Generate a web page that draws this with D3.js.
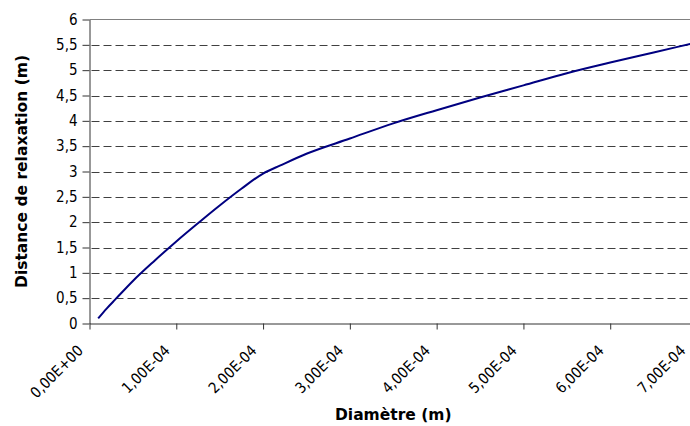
<!DOCTYPE html>
<html>
<head>
<meta charset="utf-8">
<script src="https://cdn.jsdelivr.net/npm/d3@7"></script>
<style>
  html, body { margin: 0; padding: 0; background: #fff; }
  svg { display: block; }
  text { font-family: "DejaVu Sans Condensed", "DejaVu Sans", sans-serif; font-stretch: condensed; fill: #000; }
  text.title { font-family: "DejaVu Sans", sans-serif; font-stretch: normal; font-weight: bold; }
</style>
</head>
<body>
<svg id="chart" width="690" height="426"></svg>
<script>
// Data
const diameters = [1.0e-5, 2.0e-5, 3.0e-5, 5.0e-5, 7.5e-5, 1.0e-4, 1.25e-4, 1.5e-4, 1.75e-4, 2.0e-4, 2.2e-4, 2.5e-4, 3.0e-4, 3.5e-4, 4.0e-4, 4.5e-4, 5.0e-4, 5.5e-4, 6.0e-4, 6.5e-4, 7.0e-4];
const distances = [0.10, 0.30, 0.48, 0.84, 1.24, 1.62, 1.98, 2.33, 2.66, 2.96, 3.12, 3.35, 3.65, 3.95, 4.21, 4.46, 4.70, 4.94, 5.15, 5.35, 5.55];
const xTickValues = [0, 1e-4, 2e-4, 3e-4, 4e-4, 5e-4, 6e-4, 7e-4];
const xTickLabels = ["0,00E+00", "1,00E-04", "2,00E-04", "3,00E-04", "4,00E-04", "5,00E-04", "6,00E-04", "7,00E-04"];
const yTickValues = [0, 0.5, 1, 1.5, 2, 2.5, 3, 3.5, 4, 4.5, 5, 5.5, 6];
const yTickLabels = ["0", "0,5", "1", "1,5", "2", "2,5", "3", "3,5", "4", "4,5", "5", "5,5", "6"];
const xTitle = "Diamètre (m)";
const yTitle = "Distance de relaxation (m)";

const W = 690;
const svg = d3.select("#chart");
const mLeft = 89.5, mRight = 697, mTop = 19.5, mBottom = 323.5;

const x = d3.scaleLinear().domain([0, 7e-4]).range([mLeft, mRight]);
const y = d3.scaleLinear().domain([0, 6]).range([mBottom, mTop]);

// Gridlines (dashed)
svg.append("g").selectAll("line")
  .data(yTickValues.filter(v => v > 0 && v < 6))
  .join("line")
  .attr("x1", mLeft + 2).attr("x2", mRight)
  .attr("y1", d => Math.round(y(d)) + 0.5).attr("y2", d => Math.round(y(d)) + 0.5)
  .attr("stroke", "#404040").attr("stroke-width", 1)
  .attr("stroke-dasharray", "8,4");

// Top border
svg.append("line")
  .attr("x1", mLeft).attr("x2", mRight).attr("y1", mTop).attr("y2", mTop)
  .attr("stroke", "#808080").attr("stroke-width", 1);

// Y axis
const yAxis = d3.axisLeft(y).tickValues(yTickValues)
  .tickFormat((d, i) => yTickLabels[i]).tickSize(7).tickSizeOuter(0).tickPadding(5);
const gy = svg.append("g").attr("transform", `translate(${mLeft},0)`).call(yAxis);
gy.select(".domain").attr("stroke", "#333");
gy.selectAll(".tick line").attr("stroke", "#333");
gy.selectAll(".tick text").style("font-size", "15px").attr("fill", "#000");

// X axis
const xAxis = d3.axisBottom(x).tickValues(xTickValues)
  .tickFormat((d, i) => xTickLabels[i]).tickSize(6).tickSizeOuter(0);
const gx = svg.append("g").attr("transform", `translate(0,${mBottom})`).call(xAxis);
gx.select(".domain").attr("stroke", "#333");
gx.selectAll(".tick line").attr("stroke", "#333");
gx.selectAll(".tick text")
  .style("font-size", "15px")
  .attr("text-anchor", "end")
  .attr("dy", null)
  .attr("y", 0)
  .attr("transform", d => {
    // keep the label inside the picture (as the reference does for the last one)
    const px = x(d);
    const dx = Math.min(-6, (W - 4) - px);
    return `translate(${dx},28) rotate(-45)`;
  });

// Line
const line = d3.line().curve(d3.curveMonotoneX).x((d, i) => x(diameters[i])).y(d => y(d));
svg.append("path")
  .datum(distances)
  .attr("d", line)
  .attr("fill", "none")
  .attr("stroke", "#000080")
  .attr("stroke-width", 2);

// Titles
svg.append("text")
  .attr("class", "title")
  .attr("x", (mLeft + mRight) / 2).attr("y", 420)
  .attr("text-anchor", "middle")
  .style("font-size", "15.5px")
  .text(xTitle);

svg.append("text")
  .attr("class", "title")
  .attr("transform", `translate(27,${(mTop + mBottom) / 2}) rotate(-90)`)
  .attr("text-anchor", "middle")
  .style("font-size", "15.5px")
  .text(yTitle);
</script>
</body>
</html>
